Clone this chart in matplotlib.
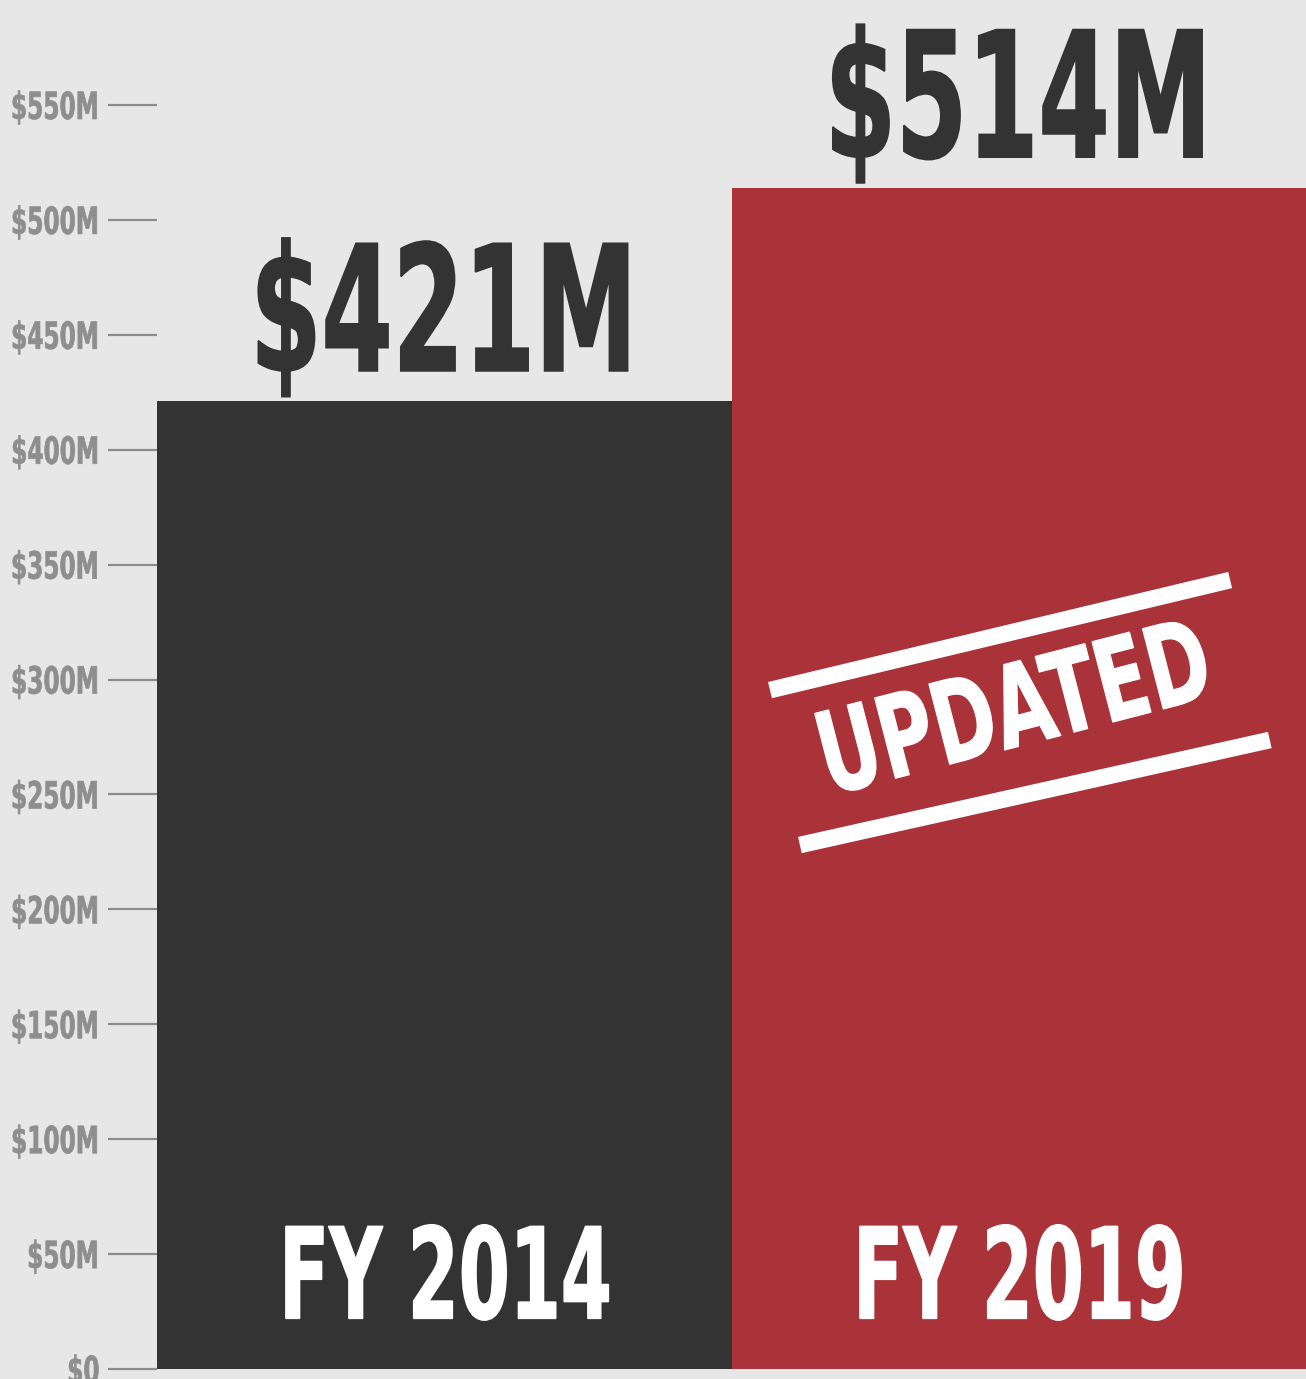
import matplotlib.pyplot as plt
from matplotlib.patheffects import AbstractPathEffect
from matplotlib.transforms import Affine2D

# data
years = ['FY 2014', 'FY 2019']
budget = [421, 514]  # $M
labels = ['$421M', '$514M']
tick_vals = list(range(0, 551, 50))
tick_labels = ['$0'] + [f'${v}M' for v in tick_vals[1:]]

bg = '#e7e7e7'
bar_colors = ['#333333', '#aa3339']
FONT = 'DejaVu Sans'


class Squeeze(AbstractPathEffect):
    """Narrow the glyphs horizontally (no condensed font is installed)."""

    def __init__(self, sx, anchor='center', lw=0.0):
        super().__init__()
        self.sx = sx
        self.anchor = anchor
        self.lw = lw

    def draw_path(self, renderer, gc, tpath, affine, rgbFace=None):
        ext = tpath.get_extents()
        c = {'left': ext.x0, 'right': ext.x1}.get(self.anchor, (ext.x0 + ext.x1) / 2)
        t = Affine2D().translate(-c, 0).scale(self.sx, 1).translate(c, 0) + affine
        gc0 = renderer.new_gc()
        gc0.copy_properties(gc)
        if self.lw:
            gc0.set_foreground(rgbFace)
            gc0.set_linewidth(self.lw)
            gc0.set_joinstyle('miter')
        renderer.draw_path(gc0, tpath, t, rgbFace)
        gc0.restore()


W, H = 1306, 1379
fig = plt.figure(figsize=(W / 100, H / 100), dpi=100, facecolor=bg)
# axes: left edge at x=157px, y=0 at 1369px, top of figure
ax = fig.add_axes([157 / W, (H - 1369) / H, 1 - 157 / W, 1369 / H])
ax.set_facecolor(bg)

x = range(len(years))
ax.bar(x, budget, width=1.0, color=bar_colors, zorder=2)
ax.set_xlim(-0.5, 1.5)
ax.set_ylim(0, 1369 / ((1369 - 105) / 550))

for s in ax.spines.values():
    s.set_visible(False)
ax.set_xticks([])
ax.set_yticks(tick_vals)
ax.set_yticklabels(tick_labels, family=FONT, fontweight='bold', fontsize=27,
                   color='#8e8e8e', path_effects=[Squeeze(0.62, 'right', 0.5)])
ax.tick_params(axis='y', length=35, width=1.6, color='#8c8c8c', pad=6)

# value labels on top, year labels at the bottom of the bars
for i, (v, lab) in enumerate(zip(budget, labels)):
    ax.annotate(lab, (i, v), xytext=(0, 22), textcoords='offset points',
                ha='center', va='baseline', family=FONT, fontweight='bold',
                fontsize=126, color='#333333', path_effects=[Squeeze(0.585, lw=1.2)])
    ax.text(i, 22, years[i], ha='center', va='baseline', family=FONT,
            fontweight='bold', fontsize=91, color='white',
            path_effects=[Squeeze(0.58, lw=1.0)])

# "UPDATED" stamp on the second bar
ax.plot([0.567, 1.368], [295.4, 343.3], color='white', lw=12,
        solid_capstyle='butt', zorder=3)
ax.plot([0.619, 1.437], [228.0, 273.7], color='white', lw=12,
        solid_capstyle='butt', zorder=3)
ax.text(0.993, 284.6, 'UPDATED', ha='center', va='center', rotation=14.5,
        family=FONT, fontweight='bold', fontsize=82, color='white',
        path_effects=[Squeeze(0.67, lw=0.8)], zorder=4)

fig.savefig('out.png', dpi=100, facecolor=bg)
